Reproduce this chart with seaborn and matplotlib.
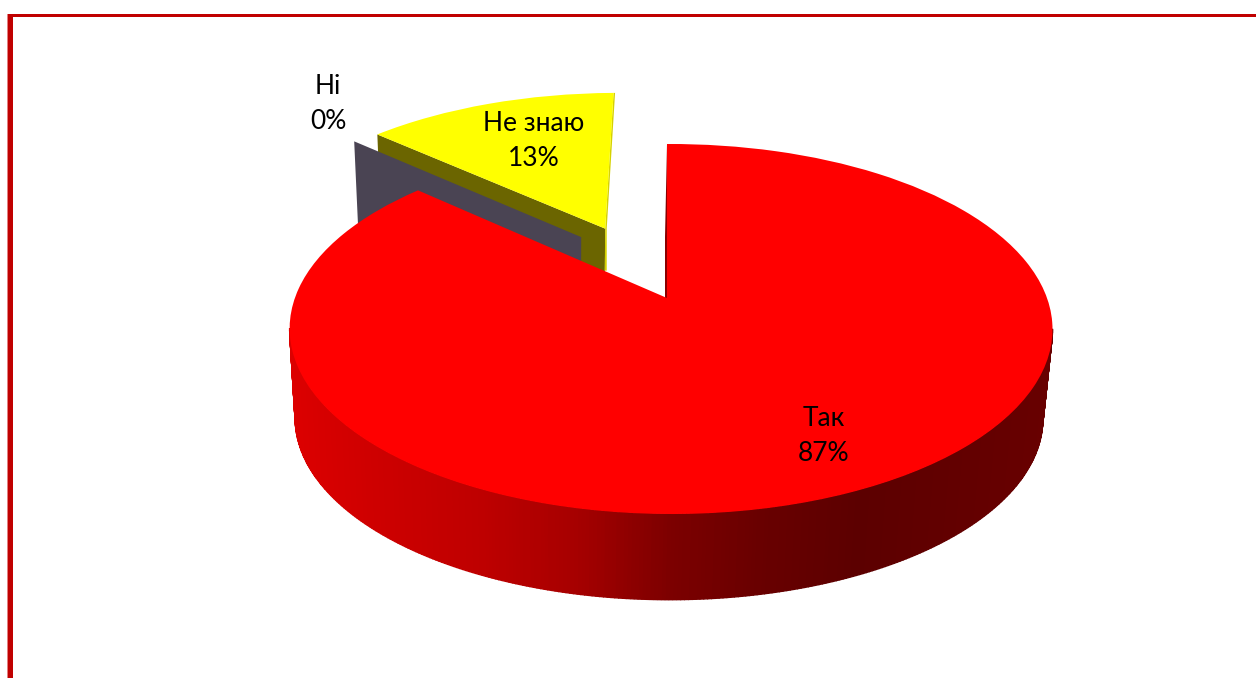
import numpy as np
import seaborn as sns
import matplotlib
matplotlib.use('Agg')
import matplotlib.pyplot as plt
from matplotlib.patches import Rectangle
from matplotlib.transforms import Transform

# data
categories = ['Так', 'Ні', 'Не знаю']
percents = [86.7, 0, 13.3]

# styles, all in pixels of the picture
top_colors = ['#FF0000', '#4A4453', '#FFFF00']
wall_stops = ['#DC0000', '#CC0000', '#BE0000', '#A60000', '#7C0000',
              '#680000', '#5C0000', '#620000', '#680000']
label_xy = [(824, 436), (328, 104), (534, 141)]
explode_shift = [(0, 0), (-0.2425, 0.36), (-0.176, 0.413)]

CX, CY = 667, 298
BX, AY = 376, 179.8
KY, KX = 0.1676, -0.0105
SCALE, DX, DY = 0.98, -2, 90
WALL_X0, WALL_X1 = 290, 1052
WIDEST_Y = CY + 30


def project(x, y):
    # pie coordinates -> picture pixels, with the perspective of the 3D pie
    d = 1 + KY * y + KX * x
    return CX + BX * x / d, CY - AY * y / d


def lower(px, py):
    # same point on the bottom face of the pie
    return CX + SCALE * (px - CX) + DX, CY + SCALE * (py - CY) + DY


class Perspective(Transform):
    input_dims = 2
    output_dims = 2

    def transform_non_affine(self, values):
        values = np.asarray(values)
        return np.column_stack(project(values[:, 0], values[:, 1]))


sns.set_theme(style='white')
plt.rcParams['font.family'] = ['Lato', 'Noto Sans']

fig = plt.figure(figsize=(12.56, 6.78), dpi=100, facecolor='white')
ax = fig.add_axes([0, 0, 1, 1])

wedges, _ = ax.pie(percents, colors=sns.color_palette(top_colors), startangle=90,
                   counterclock=False, radius=1, wedgeprops={'linewidth': 0})
ax.set_aspect('auto')
ax.set_xlim(0, 1256)
ax.set_ylim(678, 0)
ax.axis('off')

persp = Perspective()
for w, shift, z in zip(wedges, explode_shift, [10, 3, 1]):
    w.set_center(shift)
    w.set_transform(persp + ax.transData)
    w.set_clip_on(False)
    w.set_zorder(z)
wedges[1].set_visible(False)

# angles of the slice edges from the values
edges = 90 - np.cumsum([0] + percents) * 3.6


def flat_wall(angle, shift, color, z):
    # straight cut side of a slice, from the tip to the rim
    a = np.deg2rad(angle)
    tx, ty = project(np.array(shift[0]), np.array(shift[1]))
    ox, oy = project(shift[0] + np.cos(a), shift[1] + np.sin(a))
    bx, by = lower(np.array([ox, tx]), np.array([oy, ty]))
    ax.fill([tx, ox, bx[0], bx[1]], [ty, oy, by[0], by[1]], color=color, lw=0, zorder=z)


# yellow slice walls, then the grey one, all covered by the red top
flat_wall(edges[2], explode_shift[2], '#6B6500', 0)
tx, ty = project(np.array(explode_shift[2][0]), np.array(explode_shift[2][1]))
ox, oy = project(explode_shift[2][0], explode_shift[2][1] + 1)
ax.fill([tx, ox, ox + 1.5, tx + 1.5, tx + 1.5, tx - 0.5],
        [ty, oy, oy, ty, ty + 42, ty + 42], color='#D6D200', lw=0, zorder=0.5)
flat_wall(edges[1], explode_shift[1], '#4A4453', 2)

# dark sliver in the gap next to the red slice
flat_wall(edges[0], explode_shift[0], '#8A0000', 4)

# outer wall of the red slice, strip by strip, only the front part shows
cmap = sns.blend_palette(wall_stops, as_cmap=True)
angles = np.deg2rad(np.arange(edges[0], edges[1] - 0.5, -0.5))
rx, ry = project(np.cos(angles), np.sin(angles))
lx, ly = lower(rx, ry)
for i in range(len(angles) - 1):
    if ry[i] < WIDEST_Y or ry[i + 1] < WIDEST_Y:
        continue
    c = cmap((0.5 * (rx[i] + rx[i + 1]) - WALL_X0) / (WALL_X1 - WALL_X0))
    ax.fill([rx[i], rx[i + 1], lx[i + 1], lx[i]], [ry[i], ry[i + 1], ly[i + 1], ly[i]],
            color=c, lw=1.0, zorder=5)

# labels
for name, val, (x, y) in zip(categories, percents, label_xy):
    ax.text(x, y, f'{name}\n{val:.0f}%', ha='center', va='center', fontsize=19, color='black',
            linespacing=1.52, zorder=20)

# frame of the slide
ax.add_patch(Rectangle((8, 14), 5, 664, color='#C00000', lw=0, zorder=30))
ax.add_patch(Rectangle((7, 14), 1, 664, color='#E38080', lw=0, zorder=30))
ax.add_patch(Rectangle((8, 14), 1248, 3, color='#C00000', lw=0, zorder=30))

fig.savefig('out.png', dpi=100)
